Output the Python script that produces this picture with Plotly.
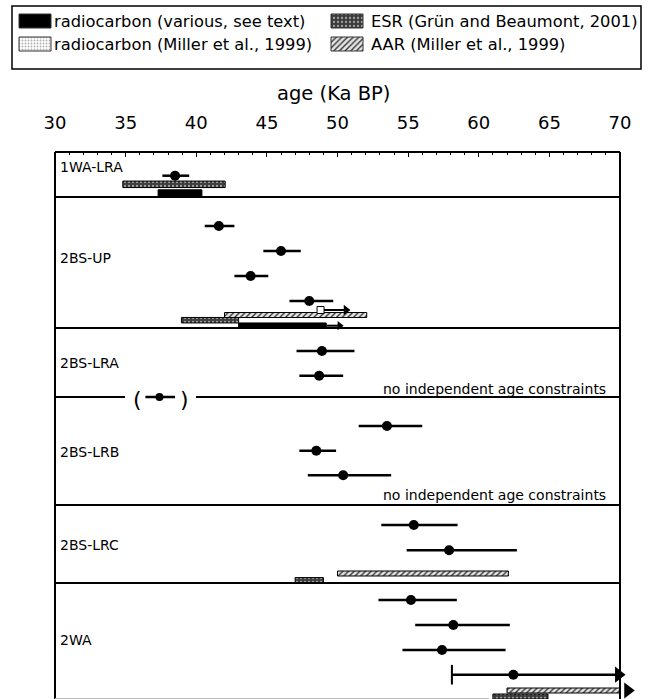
import plotly.graph_objects as go

W, H = 651, 699
FONT = "DejaVu Sans"

# ---------------- data ----------------
panel_names = ["1WA-LRA", "2BS-UP", "2BS-LRA", "2BS-LRB", "2BS-LRC", "2WA"]
tick_values = [30, 35, 40, 45, 50, 55, 60, 65, 70]
tick_labels = ["30", "35", "40", "45", "50", "55", "60", "65", "70"]

# point ages (ka) with lower / upper limits, per panel
pt_panel = ["1WA-LRA", "2BS-UP", "2BS-UP", "2BS-UP", "2BS-UP",
            "2BS-LRA", "2BS-LRA",
            "2BS-LRB", "2BS-LRB", "2BS-LRB",
            "2BS-LRC", "2BS-LRC",
            "2WA", "2WA", "2WA"]
pt_age = [38.5, 41.6, 46.0, 43.85, 48.0,
          48.9, 48.7,
          53.5, 48.5, 50.4,
          55.4, 57.9,
          55.2, 58.2, 57.4]
pt_lo = [37.6, 40.6, 44.75, 42.7, 46.6,
         47.1, 47.3,
         51.5, 47.3, 47.9,
         53.1, 54.9,
         52.9, 55.5, 54.6]
pt_hi = [39.5, 42.7, 47.4, 45.1, 49.7,
         51.2, 50.4,
         56.0, 49.9, 53.8,
         58.5, 62.7,
         58.45, 62.2, 61.9]

# bracketed point (between 2BS-LRA and 2BS-LRB)
br_age, br_lo, br_hi = 37.4, 36.4, 38.5

# open-ended point in 2WA (minimum age)
oe_age, oe_lo, oe_hi = 62.45, 58.1, 70.0

# ESR ranges (Grün and Beaumont, 2001)
esr_panel = ["1WA-LRA", "2BS-UP", "2BS-LRC", "2WA"]
esr_start = [34.8, 38.95, 47.0, 61.0]
esr_end = [42.05, 43.0, 49.0, 64.9]

# AAR ranges (Miller et al., 1999)
aar_panel = ["2BS-UP", "2BS-LRC", "2WA"]
aar_start = [42.0, 50.0, 62.0]
aar_end = [52.07, 62.1, 70.0]

# radiocarbon (various)
rc_panel = ["1WA-LRA", "2BS-UP"]
rc_start = [37.3, 43.0]
rc_end = [40.4, 49.2]
rc_arrow_end = [None, 50.4]

# radiocarbon (Miller et al., 1999), minimum age
rm_age, rm_arrow_end = 48.8, 50.9

legend_labels = ["radiocarbon (various, see text)", "ESR (Grün and Beaumont, 2001)",
                 "radiocarbon (Miller et al., 1999)", "AAR (Miller et al., 1999)"]

# ---------------- layout helpers (pixel geometry) ----------------
LEFT, RIGHT, TOP = 55, 620, 152
PX_PER_KA = (RIGHT - LEFT) / 40.0
def px(x):
    return x / W
def py(y):
    return 1 - y / H

# vertical slot (px below box top) of each mark within panels
pt_row = [23.7, 74, 99, 124, 149, 199, 223.7, 274, 298.7, 323.3, 373, 398.3, 448, 473, 498]
br_row = 245
oe_row = 522.7
esr_row = {"1WA-LRA": (32.3, 6.5), "2BS-UP": (168.2, 5.5), "2BS-LRC": (428.3, 5.5), "2WA": (544.5, 5)}
aar_row = {"2BS-UP": (163, 5), "2BS-LRC": (421.5, 5), "2WA": (538.5, 5)}
rc_row = {"1WA-LRA": (41.3, 7), "2BS-UP": (173.7, 5.5)}
rm_row = 158
panel_label_row = [15, 106, 211, 300, 393, 488]
dividers = [197, 328, 505, 583]

fig = go.Figure()

AX = dict(xaxis="x", yaxis="y")

esr_pattern = dict(shape=".", bgcolor="#3c3c3c", fgcolor="#a0a0a0", size=4, solidity=0.25, fillmode="replace")
aar_pattern = dict(shape="/", bgcolor="#e6e6e6", fgcolor="#333333", size=4, solidity=0.35, fillmode="replace")
rm_pattern = dict(shape=".", bgcolor="#ffffff", fgcolor="#b0b0b0", size=3, solidity=0.3, fillmode="replace")

def add_bars(starts, ends, rows, pattern=None, color="black"):
    ys = [r[0] for r in rows]
    ws = [r[1] for r in rows]
    marker = dict(color=color, line=dict(color="black", width=1))
    if pattern is not None:
        marker["pattern"] = pattern
    fig.add_trace(go.Bar(orientation="h", base=starts,
                         x=[e - s for s, e in zip(starts, ends)],
                         y=ys, width=ws, marker=marker, showlegend=False,
                         hoverinfo="skip", **AX))

add_bars(esr_start, esr_end, [esr_row[p] for p in esr_panel], esr_pattern, "#3c3c3c")
add_bars(aar_start, aar_end, [aar_row[p] for p in aar_panel], aar_pattern, "#e6e6e6")
add_bars(rc_start, rc_end, [rc_row[p] for p in rc_panel], None, "black")

# radiocarbon arrow continuation (2BS-UP)
for p, e, ae in zip(rc_panel, rc_end, rc_arrow_end):
    if ae is None:
        continue
    yr = rc_row[p][0]
    fig.add_trace(go.Scatter(x=[e, ae - 0.25], y=[yr, yr], mode="lines",
                             line=dict(color="black", width=2), showlegend=False,
                             hoverinfo="skip", **AX))
    fig.add_trace(go.Scatter(x=[ae - 0.25], y=[yr], mode="markers",
                             marker=dict(symbol="triangle-right", size=8, color="black"),
                             cliponaxis=False, showlegend=False, hoverinfo="skip", **AX))

# Miller radiocarbon minimum age: open square with arrow
fig.add_trace(go.Scatter(x=[rm_age, rm_arrow_end - 0.3], y=[rm_row, rm_row], mode="lines",
                         line=dict(color="black", width=2), showlegend=False, hoverinfo="skip", **AX))
fig.add_trace(go.Scatter(x=[rm_arrow_end - 0.3], y=[rm_row], mode="markers",
                         marker=dict(symbol="triangle-right", size=9, color="black"),
                         showlegend=False, hoverinfo="skip", **AX))
fig.add_trace(go.Scatter(x=[rm_age], y=[rm_row], mode="markers",
                         marker=dict(symbol="square", size=7, color="white",
                                     line=dict(color="black", width=1)),
                         showlegend=False, hoverinfo="skip", **AX))

# AAR open-ended arrow in 2WA
fig.add_trace(go.Scatter(x=[aar_end[2] + 0.55], y=[aar_row["2WA"][0]], mode="markers",
                         marker=dict(symbol="triangle-right", size=14, color="black"),
                         cliponaxis=False, showlegend=False, hoverinfo="skip", **AX))

# point ages with error bars
fig.add_trace(go.Scatter(
    x=pt_age, y=pt_row, mode="markers",
    marker=dict(symbol="circle", size=10, color="black"),
    error_x=dict(type="data", symmetric=False,
                 array=[h - a for a, h in zip(pt_age, pt_hi)],
                 arrayminus=[a - l for a, l in zip(pt_age, pt_lo)],
                 color="black", thickness=2.5, width=0),
    showlegend=False, hoverinfo="skip", **AX))

# bracketed point
fig.add_trace(go.Scatter(
    x=[br_age], y=[br_row], mode="markers",
    marker=dict(symbol="circle", size=8, color="black"),
    error_x=dict(type="data", symmetric=False, array=[br_hi - br_age],
                 arrayminus=[br_age - br_lo], color="black", thickness=2.5, width=0),
    showlegend=False, hoverinfo="skip", **AX))

# open-ended point in 2WA
fig.add_trace(go.Scatter(x=[oe_lo, oe_hi - 0.2], y=[oe_row, oe_row], mode="lines",
                         line=dict(color="black", width=2.5), showlegend=False,
                         hoverinfo="skip", **AX))
fig.add_trace(go.Scatter(x=[oe_lo], y=[oe_row], mode="markers",
                         marker=dict(symbol="line-ns", size=14, line=dict(color="black", width=2)),
                         showlegend=False, hoverinfo="skip", **AX))
fig.add_trace(go.Scatter(x=[oe_hi - 0.1], y=[oe_row], mode="markers",
                         marker=dict(symbol="triangle-right", size=14, color="black"),
                         cliponaxis=False, showlegend=False, hoverinfo="skip", **AX))
fig.add_trace(go.Scatter(x=[oe_age], y=[oe_row], mode="markers",
                         marker=dict(symbol="circle", size=10, color="black"),
                         showlegend=False, hoverinfo="skip", **AX))

# ---------------- legend swatches (second subplot in pixel units) ----------------
LX = dict(xaxis="x2", yaxis="y2")
leg_sw_x = [19, 331, 19, 331]
leg_sw_y = [21, 21, 44, 44]
leg_fill = ["black", "#3c3c3c", "#ffffff", "#e6e6e6"]
leg_pat = [None, esr_pattern, rm_pattern, aar_pattern]
for sx, sy, fc, pat in zip(leg_sw_x, leg_sw_y, leg_fill, leg_pat):
    marker = dict(color=fc, line=dict(color="#333", width=1))
    if pat is not None:
        marker["pattern"] = pat
    fig.add_trace(go.Bar(orientation="h", base=[sx], x=[32], y=[sy], width=[14],
                         marker=marker, showlegend=False, hoverinfo="skip", **LX))

shapes = []
# legend frame
shapes.append(dict(type="rect", xref="paper", yref="paper", x0=px(12), x1=px(641),
                   y0=py(69), y1=py(6), line=dict(color="black", width=1.5)))
# chart frame
shapes.append(dict(type="line", xref="paper", yref="paper", x0=px(LEFT), x1=px(RIGHT),
                   y0=py(TOP), y1=py(TOP), line=dict(color="black", width=2)))
shapes.append(dict(type="line", xref="paper", yref="paper", x0=px(LEFT), x1=px(LEFT),
                   y0=py(TOP), y1=py(H + 2), line=dict(color="black", width=2)))
shapes.append(dict(type="line", xref="paper", yref="paper", x0=px(RIGHT), x1=px(RIGHT),
                   y0=py(TOP), y1=py(H + 2), line=dict(color="black", width=2)))
for d in dividers:
    shapes.append(dict(type="line", xref="paper", yref="paper", x0=px(LEFT), x1=px(RIGHT),
                       y0=py(d), y1=py(d), line=dict(color="black", width=2)))
# broken divider with bracketed point
shapes.append(dict(type="line", xref="paper", yref="paper", x0=px(LEFT), x1=px(125),
                   y0=py(397), y1=py(397), line=dict(color="black", width=2)))
shapes.append(dict(type="line", xref="paper", yref="paper", x0=px(196), x1=px(RIGHT),
                   y0=py(397), y1=py(397), line=dict(color="black", width=2)))
# faint bottom edge
shapes.append(dict(type="line", xref="paper", yref="paper", x0=px(LEFT), x1=px(489),
                   y0=py(698.5), y1=py(698.5), line=dict(color="#bbbbbb", width=1)))

annotations = []
leg_tx = [52, 369, 52, 369]
for t, tx, ty in zip(legend_labels, leg_tx, leg_sw_y):
    annotations.append(dict(text=t, xref="paper", yref="paper", x=px(tx), y=py(ty),
                            xanchor="left", yanchor="middle", showarrow=False,
                            font=dict(family=FONT, size=16.3, color="black")))
annotations.append(dict(text="age (Ka BP)", xref="paper", yref="paper", x=px(333), y=py(93),
                        xanchor="center", yanchor="middle", showarrow=False,
                        font=dict(family=FONT, size=19.5, color="black")))
for name, r in zip(panel_names, panel_label_row):
    annotations.append(dict(text=name, xref="paper", yref="paper", x=px(58), y=py(TOP + r),
                            xanchor="left", yanchor="middle", showarrow=False,
                            font=dict(family=FONT, size=14, color="black")))
for yy in [389, 495]:
    annotations.append(dict(text="no independent age constraints", xref="paper", yref="paper",
                            x=px(608), y=py(yy), xanchor="right", yanchor="middle",
                            showarrow=False, font=dict(family=FONT, size=14, color="black")))
annotations.append(dict(text="(", xref="paper", yref="paper", x=px(137), y=py(399),
                        xanchor="center", yanchor="middle", showarrow=False,
                        font=dict(family=FONT, size=22, color="black")))
annotations.append(dict(text=")", xref="paper", yref="paper", x=px(184), y=py(399),
                        xanchor="center", yanchor="middle", showarrow=False,
                        font=dict(family=FONT, size=22, color="black")))

# x axis extends past 70 so open-ended arrows beyond the frame stay visible
x_max = 30 + (W - LEFT) / PX_PER_KA

fig.update_layout(
    width=W, height=H, margin=dict(l=0, r=0, t=0, b=0),
    paper_bgcolor="white", plot_bgcolor="rgba(0,0,0,0)",
    barmode="overlay", showlegend=False,
    font=dict(family=FONT, color="black"),
    xaxis=dict(domain=[px(LEFT), 1], range=[30, x_max], side="top", anchor="y",
               tickmode="array", tickvals=tick_values, ticktext=tick_labels,
               ticks="inside", ticklen=5, tickwidth=1, tickcolor="black",
               minor=dict(tickmode="array", tickvals=list(range(30, 71)), ticks="inside",
                          ticklen=3, tickwidth=1, tickcolor="black"),
               ticklabelstandoff=18,
               tickfont=dict(family=FONT, size=18, color="black"),
               showgrid=False, zeroline=False, showline=False, automargin=False,
               fixedrange=True),
    yaxis=dict(domain=[0, py(TOP)], range=[H - TOP, 0], visible=False,
               showgrid=False, zeroline=False, fixedrange=True),
    xaxis2=dict(domain=[0, 1], range=[0, W], visible=False, anchor="y2", fixedrange=True),
    yaxis2=dict(domain=[py(75), 1], range=[75, 0], visible=False, anchor="x2", fixedrange=True),
    shapes=shapes, annotations=annotations,
)

fig.write_html("out.html", config={"displayModeBar": False},
               post_script="document.body.style.margin='0';document.body.style.padding='0';")
